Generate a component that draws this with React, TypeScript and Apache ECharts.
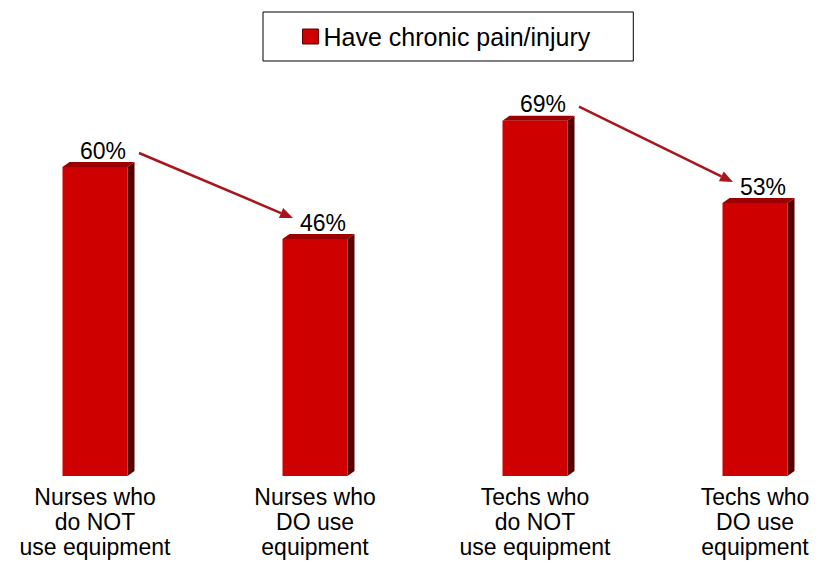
import React, { useEffect, useRef } from "react";
import * as echarts from "echarts";

const CATEGORIES = [
  "Nurses who\ndo NOT\nuse equipment",
  "Nurses who\nDO use\nequipment",
  "Techs who\ndo NOT\nuse equipment",
  "Techs who\nDO use\nequipment",
];
const VALUES = [60, 46, 69, 53];
const SERIES_NAME = "Have chronic pain/injury";
const ARROWS: [number, number][] = [
  [0, 1],
  [2, 3],
];

const FRONT = "#cf0000";
const TOP = "#9a0000";
const SIDE = "#560000";
const ARROW = "#a8161c";
const DX = 7;
const DY = 5;
const BAR_W = 65;
const FONT = "'Liberation Sans', Arial, sans-serif";

export default function App() {
  const ref = useRef<HTMLDivElement>(null);

  useEffect(() => {
    if (!ref.current) return;
    const chart = echarts.init(ref.current, undefined, { renderer: "svg" });

    const renderItem = (params: any, api: any) => {
      const xi = api.value(0);
      const v = api.value(1);
      const t = api.coord([xi, v]);
      const b = api.coord([xi, 0]);
      const left = t[0] - BAR_W / 2;
      const right = left + BAR_W;
      const top = t[1];
      const base = b[1];
      return {
        type: "group",
        children: [
          {
            type: "polygon",
            shape: {
              points: [
                [right, top],
                [right + DX, top - DY],
                [right + DX, base - DY],
                [right, base],
              ],
            },
            style: { fill: SIDE },
          },
          {
            type: "polygon",
            shape: {
              points: [
                [left, top],
                [left + DX, top - DY],
                [right + DX, top - DY],
                [right, top],
              ],
            },
            style: { fill: TOP },
          },
          {
            type: "rect",
            shape: { x: left, y: top, width: BAR_W, height: base - top },
            style: { fill: FRONT },
          },
          {
            type: "text",
            x: t[0] + 8,
            y: top - 5,
            style: {
              text: v + "%",
              fill: "#000",
              font: "23px " + FONT,
              align: "center",
              verticalAlign: "bottom",
            },
          },
        ],
      };
    };

    chart.setOption({
      animation: false,
      backgroundColor: "#ffffff",
      legend: {
        left: 263,
        top: 12,
        padding: [12, 43, 12, 39],
        borderColor: "#000",
        borderWidth: 1,
        itemWidth: 16,
        itemHeight: 15,
        itemGap: 10,
        selectedMode: false,
        textStyle: {
          fontSize: 25,
          fontFamily: FONT,
          color: "#000",
          lineHeight: 24,
        },
        data: [
          {
            name: SERIES_NAME,
            icon: "rect",
            itemStyle: { color: FRONT, borderColor: "#600000", borderWidth: 1 },
          },
        ],
      },
      grid: {
        left: -15,
        width: 880,
        top: 64,
        height: 412,
        outerBoundsMode: "none",
        containLabel: false,
      },
      xAxis: {
        type: "category",
        data: CATEGORIES,
        axisLine: { show: false },
        axisTick: { show: false },
        splitLine: { show: false },
        axisLabel: {
          interval: 0,
          margin: 8,
          fontSize: 23,
          lineHeight: 25,
          color: "#000",
          fontFamily: FONT,
        },
      },
      yAxis: {
        type: "value",
        min: 0,
        max: 80,
        show: false,
        splitLine: { show: false },
      },
      series: [
        {
          name: SERIES_NAME,
          type: "custom",
          renderItem,
          itemStyle: { color: FRONT },
          encode: { x: 0, y: 1 },
          data: VALUES.map((v, i) => [i, v]),
        },
      ],
    });

    const graphics: any[] = [];
    ARROWS.forEach(([from, to], k) => {
      const p0 = chart.convertToPixel({ xAxisIndex: 0, yAxisIndex: 0 }, [from, VALUES[from]]) as number[];
      const p1 = chart.convertToPixel({ xAxisIndex: 0, yAxisIndex: 0 }, [to, VALUES[to]]) as number[];
      const sx = p0[0] + 44;
      const sy = p0[1] - 14;
      const ex = p1[0] - 22;
      const ey = p1[1] - 21;
      const ang = Math.atan2(ey - sy, ex - sx);
      const L = 13;
      const H = 5.5;
      const bx = ex - L * Math.cos(ang);
      const by = ey - L * Math.sin(ang);
      const nx = -Math.sin(ang);
      const ny = Math.cos(ang);
      graphics.push({
        type: "line",
        id: "arrowLine" + k,
        shape: { x1: sx, y1: sy, x2: bx, y2: by },
        style: { stroke: ARROW, lineWidth: 2.5 },
        silent: true,
      });
      graphics.push({
        type: "polygon",
        id: "arrowHead" + k,
        shape: {
          points: [
            [ex, ey],
            [bx + nx * H, by + ny * H],
            [bx - nx * H, by - ny * H],
          ],
        },
        style: { fill: ARROW },
        silent: true,
      });
    });
    chart.setOption({ graphic: graphics });

    return () => chart.dispose();
  }, []);

  return (
    <div
      ref={ref}
      style={{ position: "fixed", left: 0, top: 0, width: 822, height: 567 }}
    />
  );
}
